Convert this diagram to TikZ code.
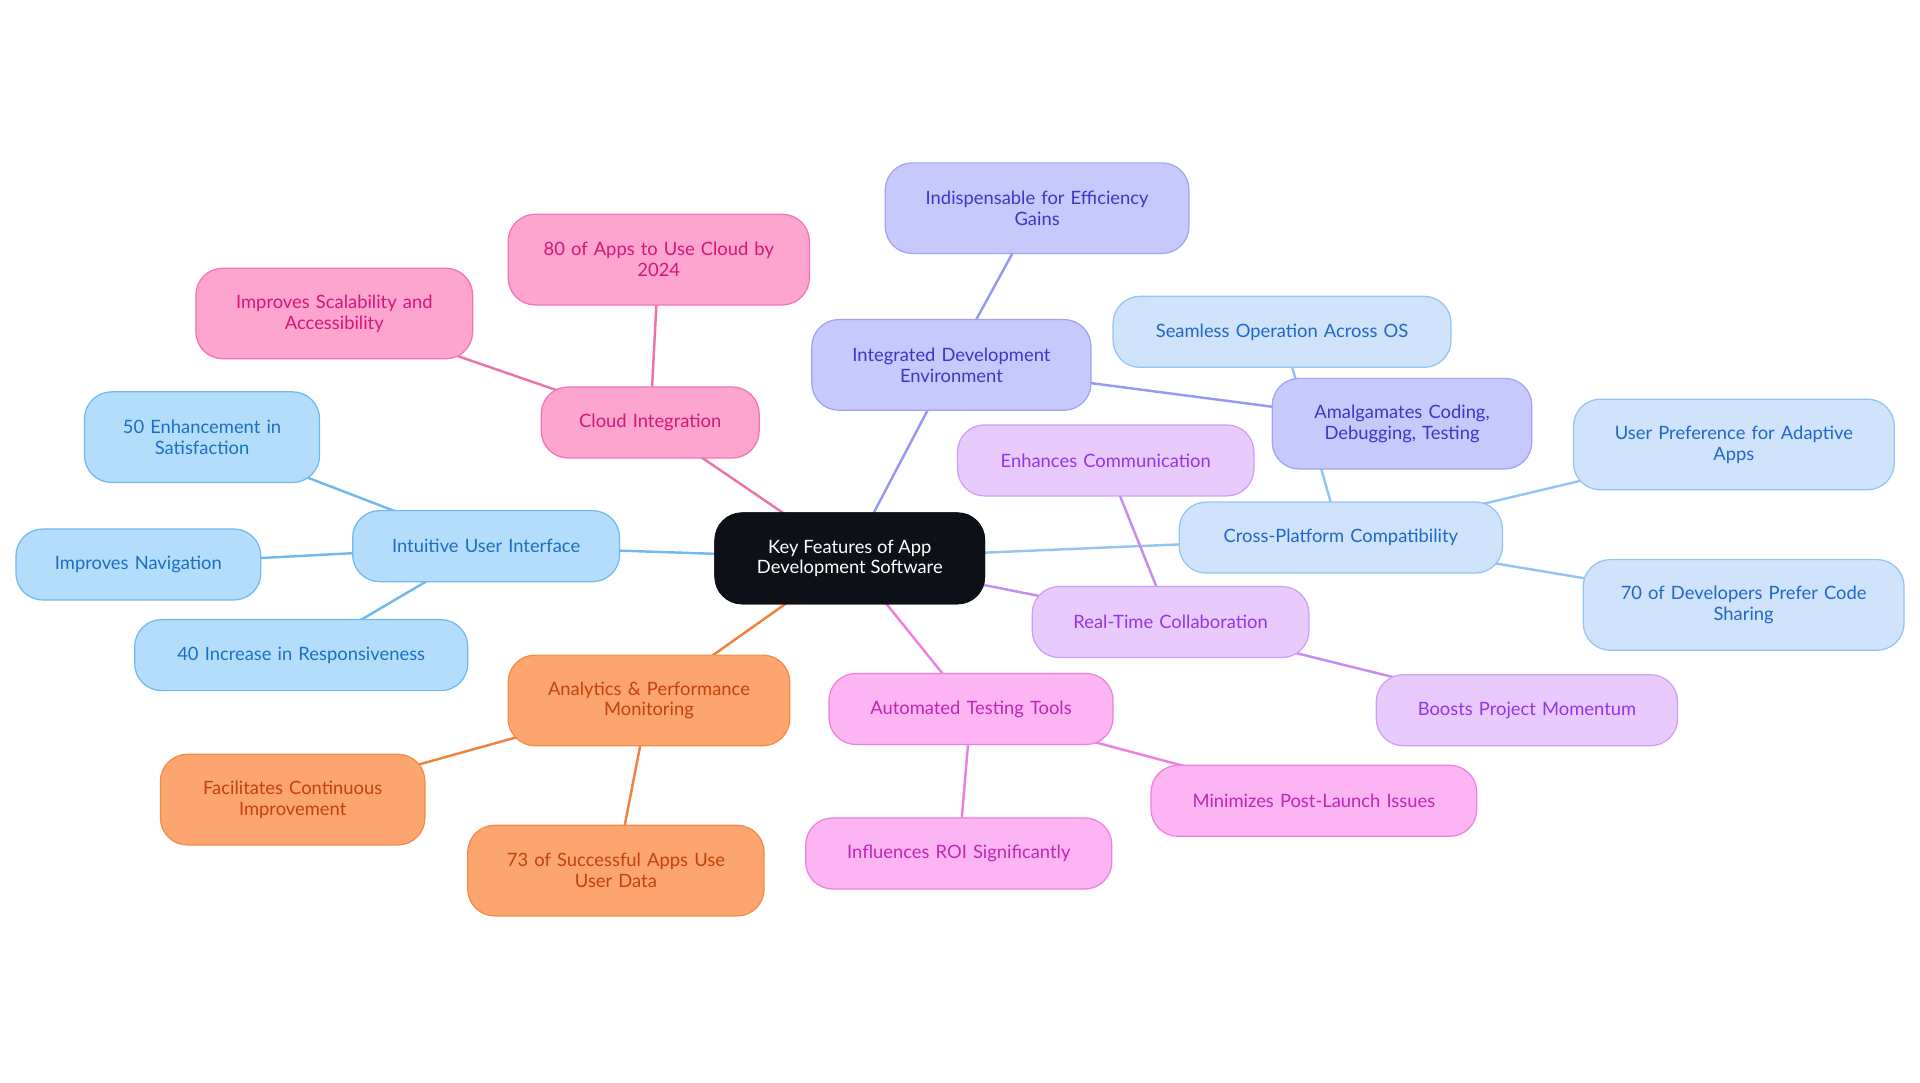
\documentclass[tikz,border=0pt]{standalone}
\usepackage{fontspec}
\setmainfont{Lato}
\begin{document}
\begin{tikzpicture}[x=1pt,y=-1pt,
 base/.style={rounded corners=22pt,draw,line width=1pt,align=center,font=\fontsize{15}{17}\selectfont,inner sep=0pt},
 bl/.style={base,fill=blue!0!cyan!25!white,fill={rgb,255:red,179;green,221;blue,251},draw={rgb,255:red,112;green,184;blue,240},text={rgb,255:red,26;green,111;blue,196}},
 pk/.style={base,fill={rgb,255:red,253;green,164;blue,207},draw={rgb,255:red,244;green,114;blue,182},text={rgb,255:red,214;green,21;blue,122}},
 pu/.style={base,fill={rgb,255:red,199;green,200;blue,251},draw={rgb,255:red,160;green,162;blue,245},text={rgb,255:red,59;green,54;blue,201}},
 lb/.style={base,fill={rgb,255:red,207;green,227;blue,251},draw={rgb,255:red,147;green,196;blue,243},text={rgb,255:red,31;green,103;blue,201}},
 vi/.style={base,fill={rgb,255:red,233;green,202;blue,252},draw={rgb,255:red,209;green,156;blue,247},text={rgb,255:red,147;green,51;blue,234}},
 mg/.style={base,fill={rgb,255:red,253;green,180;blue,243},draw={rgb,255:red,240;green,126;blue,224},text={rgb,255:red,192;green,38;blue,179}},
 og/.style={base,fill={rgb,255:red,253;green,165;blue,110},draw={rgb,255:red,245;green,138;blue,69},text={rgb,255:red,194;green,65;blue,12}},
 eb/.style={line width=2pt,draw={rgb,255:red,112;green,184;blue,240}},
 ep/.style={line width=2pt,draw={rgb,255:red,236;green,114;blue,170}},
 eu/.style={line width=2pt,draw={rgb,255:red,150;green,152;blue,245}},
 el/.style={line width=2pt,draw={rgb,255:red,147;green,196;blue,243}},
 ev/.style={line width=2pt,draw={rgb,255:red,196;green,140;blue,245}},
 em/.style={line width=2pt,draw={rgb,255:red,240;green,126;blue,224}},
 eo/.style={line width=2pt,draw={rgb,255:red,240;green,130;blue,60}},
]
\useasboundingbox (0,0) rectangle (1568,884);
\def\N#1#2#3#4#5#6#7{\node[#2,minimum width=#5pt,minimum height=#6pt,text width=#5pt-24pt] (#1) at (#3,#4) {#7};}
\N{c}{base}{694}{456}{220}{74}{Key Features of App\\Development Software}
\node[base,fill={rgb,255:red,13;green,17;blue,23},draw={rgb,255:red,13;green,17;blue,23},text=white,minimum width=220pt,minimum height=74pt] (c) at (694,456) {Key Features of App\\Development Software};
\N{ui}{bl}{397}{446}{218}{58}{Intuitive User Interface}
\N{ui1}{bl}{165}{357}{192}{74}{50 Enhancement in\\Satisfaction}
\N{ui2}{bl}{113}{461}{200}{58}{Improves Navigation}
\N{ui3}{bl}{246}{535}{272}{58}{40 Increase in Responsiveness}
\N{cl}{pk}{531}{345}{178}{58}{Cloud Integration}
\N{cl1}{pk}{273}{256}{226}{74}{Improves Scalability and\\Accessibility}
\N{cl2}{pk}{538}{212}{246}{74}{80 of Apps to Use Cloud by\\2024}
\N{id}{pu}{777}{298}{228}{74}{Integrated Development\\Environment}
\N{id1}{pu}{847}{170}{248}{74}{Indispensable for Efficiency\\Gains}
\N{cp}{lb}{1095}{439}{264}{58}{Cross-Platform Compatibility}
\N{cp1}{lb}{1047}{271}{276}{58}{Seamless Operation Across OS}
\N{cp2}{lb}{1416}{363}{262}{74}{User Preference for Adaptive\\Apps}
\N{cp3}{lb}{1424}{494}{262}{74}{70 of Developers Prefer Code\\Sharing}
\N{rt}{vi}{956}{508}{226}{58}{Real-Time Collaboration}
\N{rt1}{vi}{903}{376}{242}{58}{Enhances Communication}
\N{rt2}{vi}{1247}{580}{246}{58}{Boosts Project Momentum}
\N{at}{mg}{793}{579}{232}{58}{Automated Testing Tools}
\N{at1}{mg}{1073}{654}{266}{58}{Minimizes Post-Launch Issues}
\N{at2}{mg}{783}{697}{250}{58}{Influences ROI Significantly}
\N{an}{og}{530}{572}{230}{74}{Analytics \& Performance\\Monitoring}
\N{an1}{og}{239}{653}{216}{74}{Facilitates Continuous\\Improvement}
\N{an2}{og}{503}{711}{242}{74}{73 of Successful Apps Use\\User Data}
\N{id2}{pu}{1145}{346}{212}{74}{Amalgamates Coding,\\Debugging, Testing}
\begin{scope}[on background layer/.style={}]
\end{scope}
\pgfdeclarelayer{bg}\pgfsetlayers{bg,main}
\begin{pgfonlayer}{bg}
\draw[eb] (c.center)--(ui.center) (ui.center)--(ui1.center) (ui.center)--(ui2.center) (ui.center)--(ui3.center);
\draw[ep] (c.center)--(cl.center) (cl.center)--(cl1.center) (cl.center)--(cl2.center);
\draw[eu] (c.center)--(id.center) (id.center)--(id1.center) (id.center)--(id2.center);
\draw[el] (c.center)--(cp.center) (cp.center)--(cp1.center) (cp.center)--(cp2.center) (cp.center)--(cp3.center);
\draw[ev] (c.center)--(rt.center) (rt.center)--(rt1.center) (rt.center)--(rt2.center);
\draw[em] (c.center)--(at.center) (at.center)--(at1.center) (at.center)--(at2.center);
\draw[eo] (c.center)--(an.center) (an.center)--(an1.center) (an.center)--(an2.center);
\end{pgfonlayer}
\end{tikzpicture}
\end{document}
